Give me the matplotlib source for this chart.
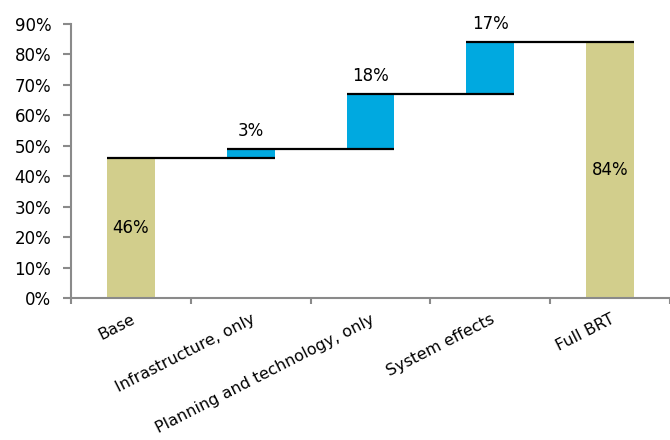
import matplotlib
matplotlib.use("Agg")
import matplotlib.pyplot as plt
import numpy as np

categories = ["Base", "Infrastructure, only", "Planning and technology, only",
              "System effects", "Full BRT"]
base_value = 46
increments = [3, 18, 17]
total_value = 84
y_ticks = [0, 10, 20, 30, 40, 50, 60, 70, 80, 90]

plt.rcParams["font.family"] = ["DejaVu Sans"]

gold = "#D2CE8C"
blue = "#00A9E0"
grey = "#8A8A8A"

fig = plt.figure(figsize=(6.7, 4.4), dpi=100)
ax = fig.add_axes([71 / 670, 1 - 298 / 440, 1 - 71 / 670, (298 - 24) / 440])

x = np.arange(len(categories))
width = 0.4

# running levels between steps
levels = [base_value]
for inc in increments:
    levels.append(levels[-1] + inc)

# totals
ax.bar(x[0], base_value, width=width, color=gold, zorder=2)
ax.bar(x[-1], total_value, width=width, color=gold, zorder=2)
# floating increments
for i, inc in enumerate(increments):
    ax.bar(x[i + 1], inc, bottom=levels[i], width=width, color=blue, zorder=2)

# connector lines: from the left of one bar to the right of the next
for i, lvl in enumerate(levels):
    ax.plot([x[i] - width / 2, x[i + 1] + width / 2], [lvl, lvl],
            color="black", lw=1.6, zorder=3, solid_capstyle="butt")

fs = 12
ax.text(x[0], base_value / 2, f"{base_value}%", ha="center", va="center", fontsize=fs)
ax.text(x[-1], total_value / 2, f"{total_value}%", ha="center", va="center", fontsize=fs)
for i, inc in enumerate(increments):
    ax.text(x[i + 1], levels[i + 1] + 3.0, f"{inc}%", ha="center", va="bottom", fontsize=fs)

ax.set_ylim(0, 90)
ax.set_xlim(-0.5, 4.41)
ax.set_yticks(y_ticks)
ax.set_yticklabels([f"{t}%" for t in y_ticks], fontsize=fs)

ax.set_xticks(x)
ax.set_xticklabels(categories, rotation=27, ha="right", rotation_mode="anchor", fontsize=11.5)
ax.tick_params(axis="x", length=0, pad=10)
ax.set_xticks(np.arange(-0.5, len(categories), 1.0), minor=True)
ax.tick_params(axis="x", which="minor", length=4.5, width=1.5, color=grey, direction="out")
ax.tick_params(axis="y", length=5.8, width=1.5, color=grey, pad=8.5)

for s in ["top", "right"]:
    ax.spines[s].set_visible(False)
for s in ["left", "bottom"]:
    ax.spines[s].set_color(grey)
    ax.spines[s].set_linewidth(1.5)

fig.savefig("out.png", dpi=100)
